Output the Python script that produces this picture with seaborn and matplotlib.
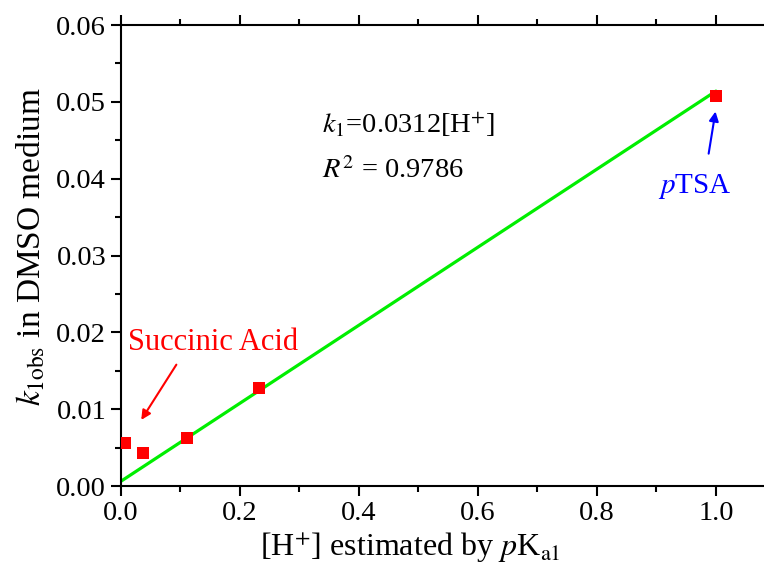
import matplotlib
matplotlib.use("Agg")
import matplotlib.pyplot as plt
import seaborn as sns
import numpy as np
import pandas as pd
from matplotlib.ticker import MultipleLocator, FormatStrFormatter

# data
h_conc = [0.008, 0.037, 0.111, 0.232, 1.0]
k_obs = [0.0056, 0.0043, 0.0062, 0.0128, 0.0507]
fit_x = [0.0, 1.0]
fit_y = [0.0006, 0.0514]

sns.set_style("ticks")
plt.rcParams["font.family"] = ["Liberation Serif", "DejaVu Serif"]
plt.rcParams["mathtext.fontset"] = "stix"
plt.rcParams["text.color"] = "black"
plt.rcParams["axes.labelcolor"] = "black"
plt.rcParams["xtick.color"] = "black"
plt.rcParams["ytick.color"] = "black"
plt.rcParams["axes.edgecolor"] = "black"

fig = plt.figure(figsize=(7.64, 5.66), dpi=100)
ax = fig.add_axes([0.158, 0.1413, 0.857, 0.8145])

pts = pd.DataFrame({"x": h_conc, "y": k_obs})
fit = pd.DataFrame({"x": fit_x, "y": fit_y})

sns.lineplot(data=fit, x="x", y="y", ax=ax, color="#00ee00", linewidth=2.3, zorder=2)
sns.scatterplot(data=pts, x="x", y="y", ax=ax, marker="s", color="#ff0000",
                s=85, linewidth=0, zorder=3)

ax.set_xlim(0, 1.1)
ax.set_ylim(0, 0.06)
ax.xaxis.set_major_locator(MultipleLocator(0.2))
ax.xaxis.set_minor_locator(MultipleLocator(0.1))
ax.yaxis.set_major_locator(MultipleLocator(0.01))
ax.yaxis.set_minor_locator(MultipleLocator(0.005))
ax.xaxis.set_major_formatter(FormatStrFormatter("%.1f"))
ax.yaxis.set_major_formatter(FormatStrFormatter("%.2f"))

for sp in ax.spines.values():
    sp.set_linewidth(1.5)
    sp.set_visible(True)
    sp.set_color("black")
ax.tick_params(which="major", direction="out", length=7, width=1.5, labelsize=20.5,
               top=True, labeltop=False, colors="black")
ax.tick_params(which="minor", direction="out", length=4, width=1.5, top=True, colors="black")

ax.set_xlabel(r"[H$^{+}$] estimated by $p$K$_{\mathrm{a1}}$", fontsize=23, color="black")
ax.set_ylabel(r"$k_{\mathrm{1obs}}$ in DMSO medium", fontsize=24, color="black")
ax.xaxis.set_label_coords(0.442, -0.095)
ax.yaxis.set_label_coords(-0.112, 0.52)

ax.text(0.338, 0.047, r"$k_{\mathrm{1}}$=0.0312[H$^{+}$]", fontsize=20.5, va="center", ha="left", color="black")
ax.text(0.338, 0.041, r"$R^{2}$ = 0.9786", fontsize=20.5, va="center", ha="left", color="black")

ax.text(0.012, 0.0187, "Succinic Acid", fontsize=22, color="#ff0000", va="center", ha="left")
ax.annotate("", xy=(0.032, 0.0083), xytext=(0.096, 0.0161),
            arrowprops=dict(arrowstyle="-|>", color="#ff0000", lw=1.5, mutation_scale=14))

ax.text(0.965, 0.039, r"$p$TSA", fontsize=21, color="#0000ff", va="center", ha="center")
ax.annotate("", xy=(1.0, 0.0491), xytext=(0.987, 0.0429),
            arrowprops=dict(arrowstyle="-|>", color="#0000ff", lw=1.5, mutation_scale=14))

fig.savefig("out.png", dpi=100)
